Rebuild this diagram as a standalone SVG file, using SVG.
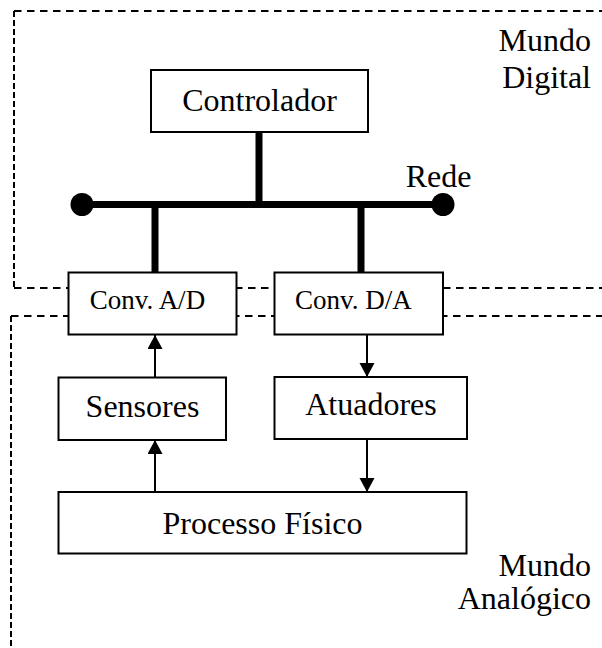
<svg xmlns="http://www.w3.org/2000/svg" width="602" height="648" viewBox="0 0 602 648">
<style>
.box{fill:#fff;stroke:#000;stroke-width:2}
.t{font-family:"Liberation Serif","Times New Roman",serif;font-size:32px;fill:#000}
.s{font-family:"Liberation Serif","Times New Roman",serif;font-size:27px;fill:#000}
.dh{fill:none;stroke:#000;stroke-width:2;stroke-dasharray:7.5 5.5}
.dv{fill:none;stroke:#000;stroke-width:2;stroke-dasharray:6 3}
.bus{stroke:#000;stroke-width:7;fill:none}
.arr{stroke:#000;stroke-width:2;fill:none;marker-end:url(#ah)}
</style>
<defs>
<marker id="ah" markerUnits="userSpaceOnUse" markerWidth="15" markerHeight="16" refX="14" refY="7.5" orient="auto">
<path d="M0,0 L14,7.5 L0,15 z" fill="#000"/>
</marker>
</defs>
<g id="regions">
<line class="dh" x1="14" y1="11" x2="602" y2="11"/>
<line class="dv" x1="14" y1="11" x2="14" y2="288"/>
<line class="dh" x1="14" y1="288" x2="602" y2="288"/>
<line class="dh" x1="11" y1="316" x2="602" y2="316"/>
<line class="dv" x1="11" y1="316" x2="11" y2="648"/>
<text class="t" x="591" y="51" text-anchor="end">Mundo</text>
<text class="t" x="591" y="88" text-anchor="end">Digital</text>
<text class="t" x="591" y="576" text-anchor="end">Mundo</text>
<text class="t" x="591" y="609" text-anchor="end">Analógico</text>
</g>
<g id="connectors">
<line class="bus" x1="259" y1="132" x2="259" y2="204.5"/>
<line class="bus" x1="82" y1="204.5" x2="443" y2="204.5"/>
<line class="bus" x1="155" y1="204.5" x2="155" y2="272"/>
<line class="bus" x1="361" y1="204.5" x2="361" y2="272"/>
<circle cx="82" cy="204.5" r="11.5" fill="#000"/>
<circle cx="443" cy="204.5" r="11.5" fill="#000"/>
<text class="t" x="438.5" y="187" text-anchor="middle">Rede</text>
<line class="arr" x1="155" y1="377" x2="155" y2="335"/>
<line class="arr" x1="367" y1="335" x2="367" y2="377"/>
<line class="arr" x1="155" y1="492" x2="155" y2="440"/>
<line class="arr" x1="367" y1="439" x2="367" y2="492"/>
</g>
<g id="controlador">
<rect class="box" x="151" y="70" width="217" height="62"/>
<text class="t" x="259.5" y="111" text-anchor="middle">Controlador</text>
</g>
<g id="conv-ad">
<rect class="box" x="68.5" y="272.5" width="168" height="62"/>
<text class="s" x="147.5" y="308.5" text-anchor="middle">Conv. A/D</text>
</g>
<g id="conv-da">
<rect class="box" x="274.5" y="272.5" width="168.5" height="62"/>
<text class="s" x="353.5" y="308.5" text-anchor="middle">Conv. D/A</text>
</g>
<g id="sensores">
<rect class="box" x="58.5" y="377.5" width="167.5" height="62.5"/>
<text class="t" x="142.5" y="416.5" text-anchor="middle">Sensores</text>
</g>
<g id="atuadores">
<rect class="box" x="274.5" y="377" width="192.5" height="62"/>
<text class="t" x="371" y="415" text-anchor="middle">Atuadores</text>
</g>
<g id="processo">
<rect class="box" x="58.5" y="492" width="408" height="61.5"/>
<text class="t" x="262.5" y="533.5" text-anchor="middle">Processo Físico</text>
</g>
</svg>
